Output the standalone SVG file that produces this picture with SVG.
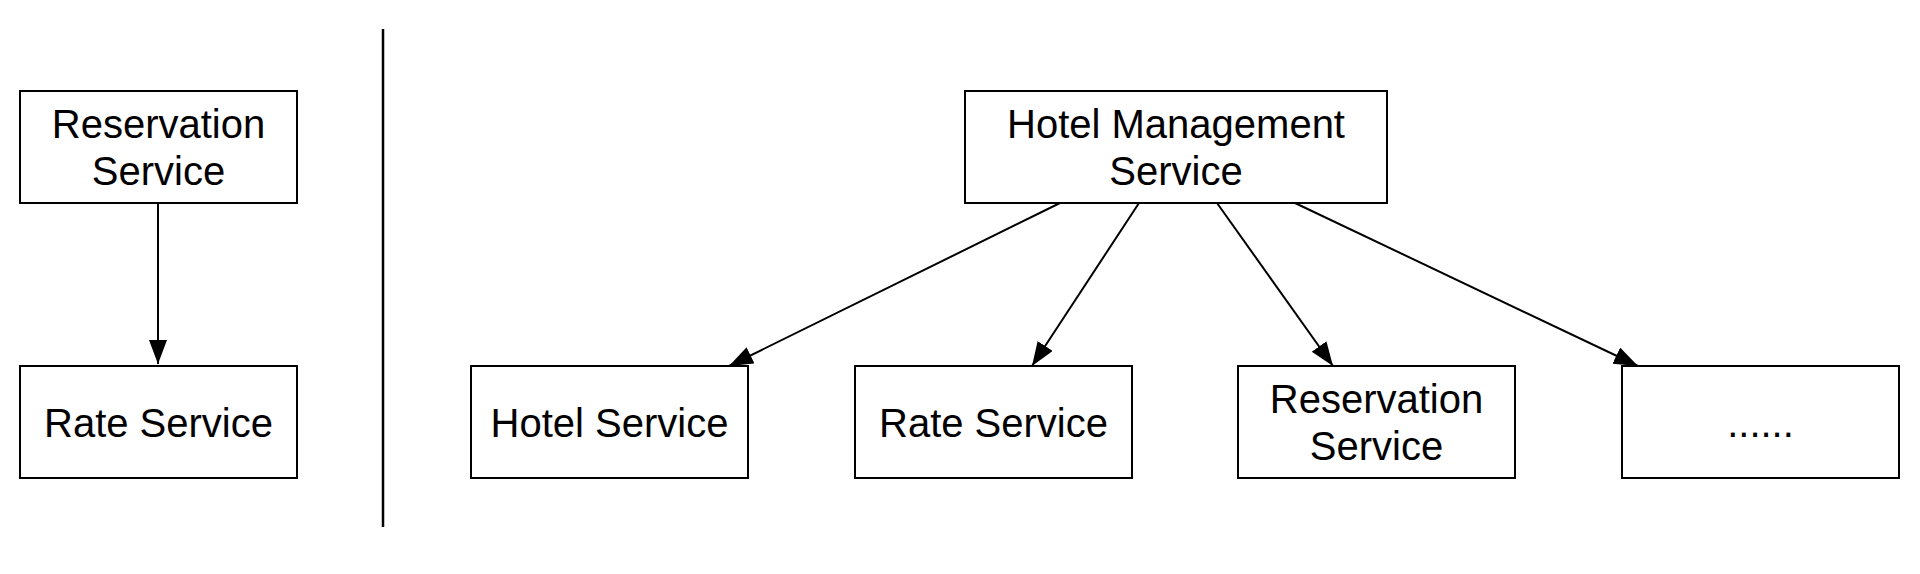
<svg xmlns="http://www.w3.org/2000/svg" width="1920" height="574" viewBox="0 0 1920 574">
<style>
.box{fill:#fff;stroke:#000;stroke-width:2}
.t{font-family:"Liberation Sans",Arial,Helvetica,sans-serif;font-size:40px;fill:#000;text-anchor:middle}
.c{stroke:#000;stroke-width:2;fill:none}
</style>
<defs>
<marker id="ah" markerUnits="userSpaceOnUse" markerWidth="26" markerHeight="20" refX="24" refY="9" orient="auto">
<path d="M0,0 L24,9 L0,18 z" fill="#000"/>
</marker>
</defs>
<rect width="1920" height="574" fill="#fff"/>
<g id="separator"><line x1="383" y1="29" x2="383" y2="527" stroke="#000" stroke-width="2.5"/></g>
<g id="connectors">
<line class="c" x1="158" y1="203" x2="158" y2="364" marker-end="url(#ah)"/>
<line class="c" x1="1060" y1="203" x2="729" y2="366" marker-end="url(#ah)"/>
<line class="c" x1="1139" y1="203" x2="1032" y2="366" marker-end="url(#ah)"/>
<line class="c" x1="1217" y1="203" x2="1333" y2="366" marker-end="url(#ah)"/>
<line class="c" x1="1295" y1="203" x2="1638" y2="366" marker-end="url(#ah)"/>
</g>
<g id="reservation-left"><rect class="box" x="20" y="91" width="277" height="112"/><text class="t" x="158.5" y="138">Reservation</text><text class="t" x="158.5" y="185">Service</text></g>
<g id="rate-left"><rect class="box" x="20" y="366" width="277" height="112"/><text class="t" x="158.5" y="437">Rate Service</text></g>
<g id="hotel-management"><rect class="box" x="965" y="91" width="422" height="112"/><text class="t" x="1176" y="138">Hotel Management</text><text class="t" x="1176" y="185">Service</text></g>
<g id="hotel-service"><rect class="box" x="471" y="366" width="277" height="112"/><text class="t" x="609.5" y="437">Hotel Service</text></g>
<g id="rate-service"><rect class="box" x="855" y="366" width="277" height="112"/><text class="t" x="993.5" y="437">Rate Service</text></g>
<g id="reservation-service"><rect class="box" x="1238" y="366" width="277" height="112"/><text class="t" x="1376.5" y="413">Reservation</text><text class="t" x="1376.5" y="460">Service</text></g>
<g id="more"><rect class="box" x="1622" y="366" width="277" height="112"/><text class="t" x="1760.5" y="437">......</text></g>
</svg>
